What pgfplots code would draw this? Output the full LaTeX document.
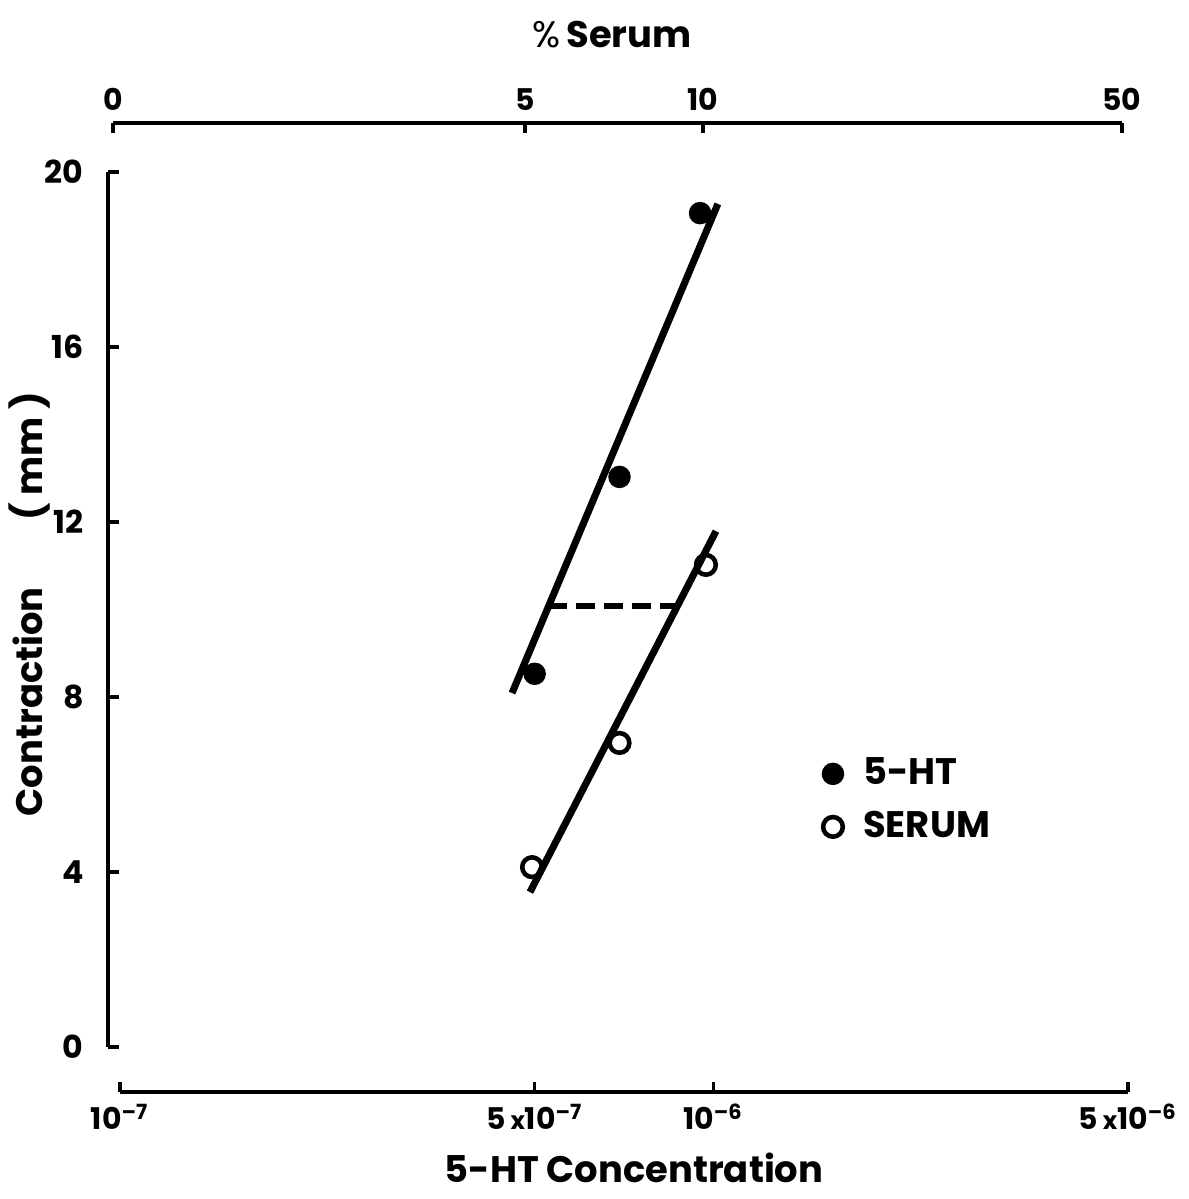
\documentclass[border=0pt]{standalone}
\usepackage{fontspec}
\setmainfont{Poppins}
\usepackage{pgfplots}
\pgfplotsset{compat=1.18}
\begin{document}
\begin{tikzpicture}
\path[use as bounding box] (0,0) rectangle (11.88cm,11.99cm);
% y axis
\begin{axis}[at={(1.08cm,1.52cm)}, anchor=south west, scale only axis,
  width=10.2cm, height=8.75cm, xmin=0, xmax=1, ymin=0, ymax=20,
  axis x line=none, axis y line=left, axis line style={-, line width=1.1pt},
  ytick={0,4,8,12,16,20}, tick align=inside, major tick length=0.11cm,
  tick style={line width=1pt, black},
  yticklabel style={font=\bfseries\fontsize{9}{10}\selectfont, xshift=-0.12cm},
  /pgf/number format/assume math mode=true]
\addplot[draw=none] coordinates {(0.5,10)};
\end{axis}
% data + bottom axis
\begin{axis}[at={(1.20cm,1.07cm)}, anchor=south west, scale only axis,
  width=10.08cm, height=9.20cm, xmode=log, xmin=1e-7, xmax=5e-6,
  ymin=-1.029, ymax=20, axis x line=bottom, axis y line=none,
  axis line style={-, line width=1pt},
  xtick={1e-7,5e-7,1e-6,5e-6},
  xticklabels={{10\textsuperscript{–7}},{5\,{\fontsize{7}{8}\selectfont x}10\textsuperscript{–7}},{10\textsuperscript{–6}},{5\,{\fontsize{7}{8}\selectfont x}10\textsuperscript{–6}}},
  minor xtick={}, tick align=inside, major tick length=0.1cm,
  tick style={line width=1pt, black},
  xticklabel style={font=\bfseries\fontsize{8.5}{9}\selectfont},
  clip=false,
  legend style={at={(0.6895,0.3717)}, anchor=north west, draw=none, fill=none,
    font=\bfseries\fontsize{10.5}{12}\selectfont, row sep=2pt, inner sep=0pt},
  legend cell align=left,
  legend image code/.code={\draw[#1] plot coordinates {(0.15cm,0cm)}; \path (0cm,0cm) (0.36cm,0cm);}]
\addplot[black, line width=2pt, forget plot] coordinates {(4.58e-7,8.09) (1.018e-6,19.27)};
\addplot[black, line width=2pt, forget plot] coordinates {(4.91e-7,3.54) (1.0106e-6,11.79)};
\addplot[black, line width=1.6pt, dash pattern=on 5.5pt off 2.5pt, forget plot] coordinates {(5.26e-7,10.08) (8.72e-7,10.08)};
\addplot[only marks, mark=*, mark size=3pt, black] coordinates {(5e-7,8.53) (6.95e-7,13.03) (9.5e-7,19.06)};
\addlegendentry{5-HT}
\addplot[only marks, mark=o, mark size=2.8pt, black, line width=1.3pt] coordinates {(4.95e-7,4.11) (6.95e-7,6.95) (9.72e-7,11.02)};
\addlegendentry{SERUM}
\end{axis}
% top axis
\begin{axis}[at={(1.13cm,10.76cm)}, anchor=north west, scale only axis,
  width=10.09cm, height=1cm, xmin=0, xmax=1, ymin=0, ymax=1,
  axis x line=top, axis y line=none, axis line style={-, line width=1pt},
  xtick={0,0.4083,0.5847,1}, xticklabels={0,5,10,50},
  tick align=inside, major tick length=0.1cm, tick style={line width=1pt, black},
  xticklabel style={font=\bfseries\fontsize{8.5}{9}\selectfont}]
\addplot[draw=none] coordinates {(0.5,0.5)};
\end{axis}
\node at (6.12cm,11.64cm) {\fontsize{10.5}{12}\selectfont \%\,\bfseries Serum};
\node at (6.34cm,0.31cm) {\bfseries\fontsize{10.5}{12}\selectfont 5-HT Concentration};
\node[rotate=90] at (0.30cm,5.95cm) {\bfseries\fontsize{10.5}{12}\selectfont Contraction\hspace{1.8em}( mm )};
\end{tikzpicture}
\end{document}
